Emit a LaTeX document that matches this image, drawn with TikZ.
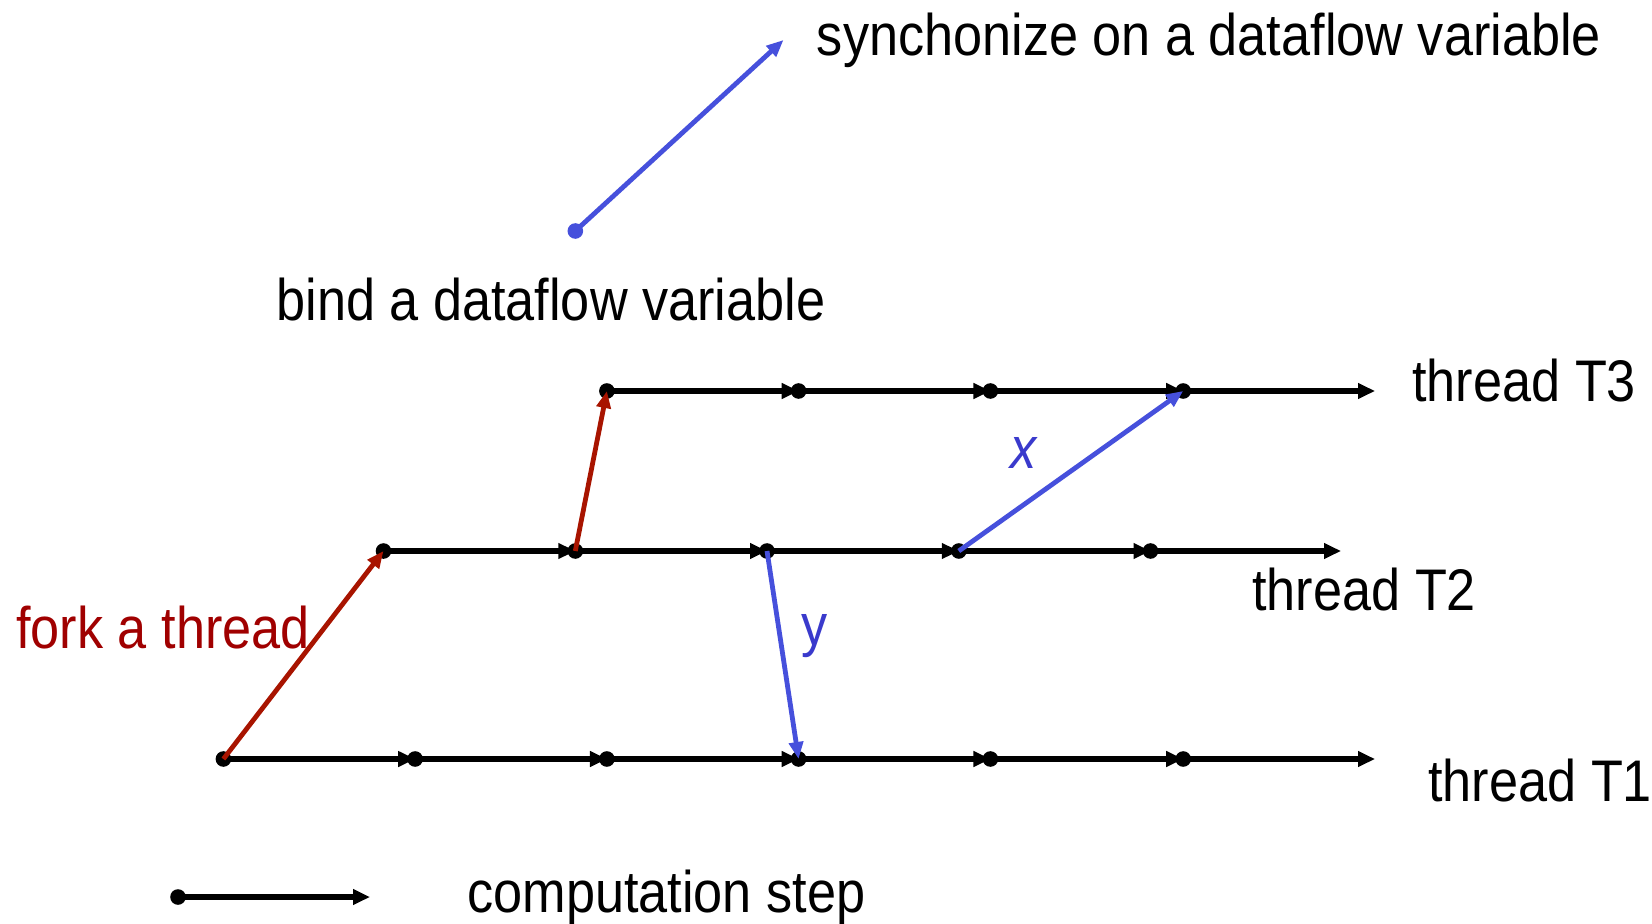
\documentclass[tikz,border=0pt]{standalone}
\usepackage{fontspec}
\setmainfont{Liberation Sans}[FakeStretch=0.89]
\usetikzlibrary{arrows.meta}
\definecolor{forkred}{HTML}{A81400}
\definecolor{forktext}{HTML}{A00000}
\definecolor{syncblue}{HTML}{4650DC}
\definecolor{labelblue}{HTML}{3A3ACC}
\begin{document}
\begin{tikzpicture}[x=0.5pt,y=-0.5pt,
  dot/.style={circle,fill=black,inner sep=0pt,minimum size=7.8pt},
  bluedot/.style={circle,fill=syncblue,inner sep=0pt,minimum size=7.8pt},
  stepline/.style={line width=2.6pt,-{Triangle[length=8.5pt,width=7.5pt]}},
  fork/.style={forkred,line width=2.4pt,-{Triangle[length=8.5pt,width=7pt]}},
  sync/.style={syncblue,line width=2.4pt,-{Triangle[length=8.5pt,width=7pt]}},
  lbl/.style={anchor=base west,inner sep=0pt,font=\fontsize{29.35pt}{35pt}\selectfont}]
\useasboundingbox (0,0) rectangle (1652,924);

% thread T1
\coordinate (a1) at (223.4,759);
\coordinate (a2) at (415.1,759);
\coordinate (a3) at (606.9,759);
\coordinate (a4) at (798.6,759);
\coordinate (a5) at (990.4,759);
\coordinate (a6) at (1183.2,759);
\coordinate (a7) at (1375,759);
% thread T2
\coordinate (b1) at (383.5,551);
\coordinate (b2) at (575.3,551);
\coordinate (b3) at (767,551);
\coordinate (b4) at (958.8,551);
\coordinate (b5) at (1150.5,551);
\coordinate (b6) at (1341,551);
% thread T3
\coordinate (c1) at (606.9,391);
\coordinate (c2) at (798.6,391);
\coordinate (c3) at (990.4,391);
\coordinate (c4) at (1183.2,391);
\coordinate (c5) at (1375,391);
% legend
\coordinate (l1) at (178,897);
\coordinate (l2) at (370,897);
% top sample
\coordinate (s1) at (575.3,231);
\coordinate (s2) at (783.5,40);

% step lines
\foreach \p/\q in {a1/a2,a2/a3,a3/a4,a4/a5,a5/a6,a6/a7,
                   b1/b2,b2/b3,b3/b4,b4/b5,b5/b6,
                   c1/c2,c2/c3,c3/c4,c4/c5,l1/l2}
  \draw[stepline] (\p) -- (\q);

% dots
\foreach \p in {a1,a2,a3,a4,a5,a6,b1,b2,b3,b4,b5,c1,c2,c3,c4,l1}
  \node[dot] (d\p) at (\p) {};

% fork arrows
\draw[fork] (da1.center) -- (db1.center);
\draw[fork] (db2.center) -- (dc1.center);
% dataflow arrows
\draw[sync] (db4.center) -- (dc4.center);
\draw[sync] (db3.center) -- (da4.center);
\node[bluedot] (sd) at (s1) {};
\draw[sync] (sd.center) -- (s2);

% texts
\node[lbl] (tsync) at (816.5,56) {synchonize on a dataflow variable};
\node[lbl] (tbind) at (276,321) {bind a dataflow variable};
\node[lbl] (tT3) at (1412,401.5) {thread T3};
\node[lbl] (tT2) at (1252,610) {thread T2};
\node[lbl] (tT1) at (1428,801) {thread T1};
\node[lbl,text=forktext] (tfork) at (16,648) {fork a thread};
\node[lbl] (tstep) at (467,912) {computation step};
\node[lbl,text=labelblue] (tx) at (1010,468) {\itshape x};
\node[lbl,text=labelblue] (ty) at (801,645) {y};
\end{tikzpicture}
\end{document}
